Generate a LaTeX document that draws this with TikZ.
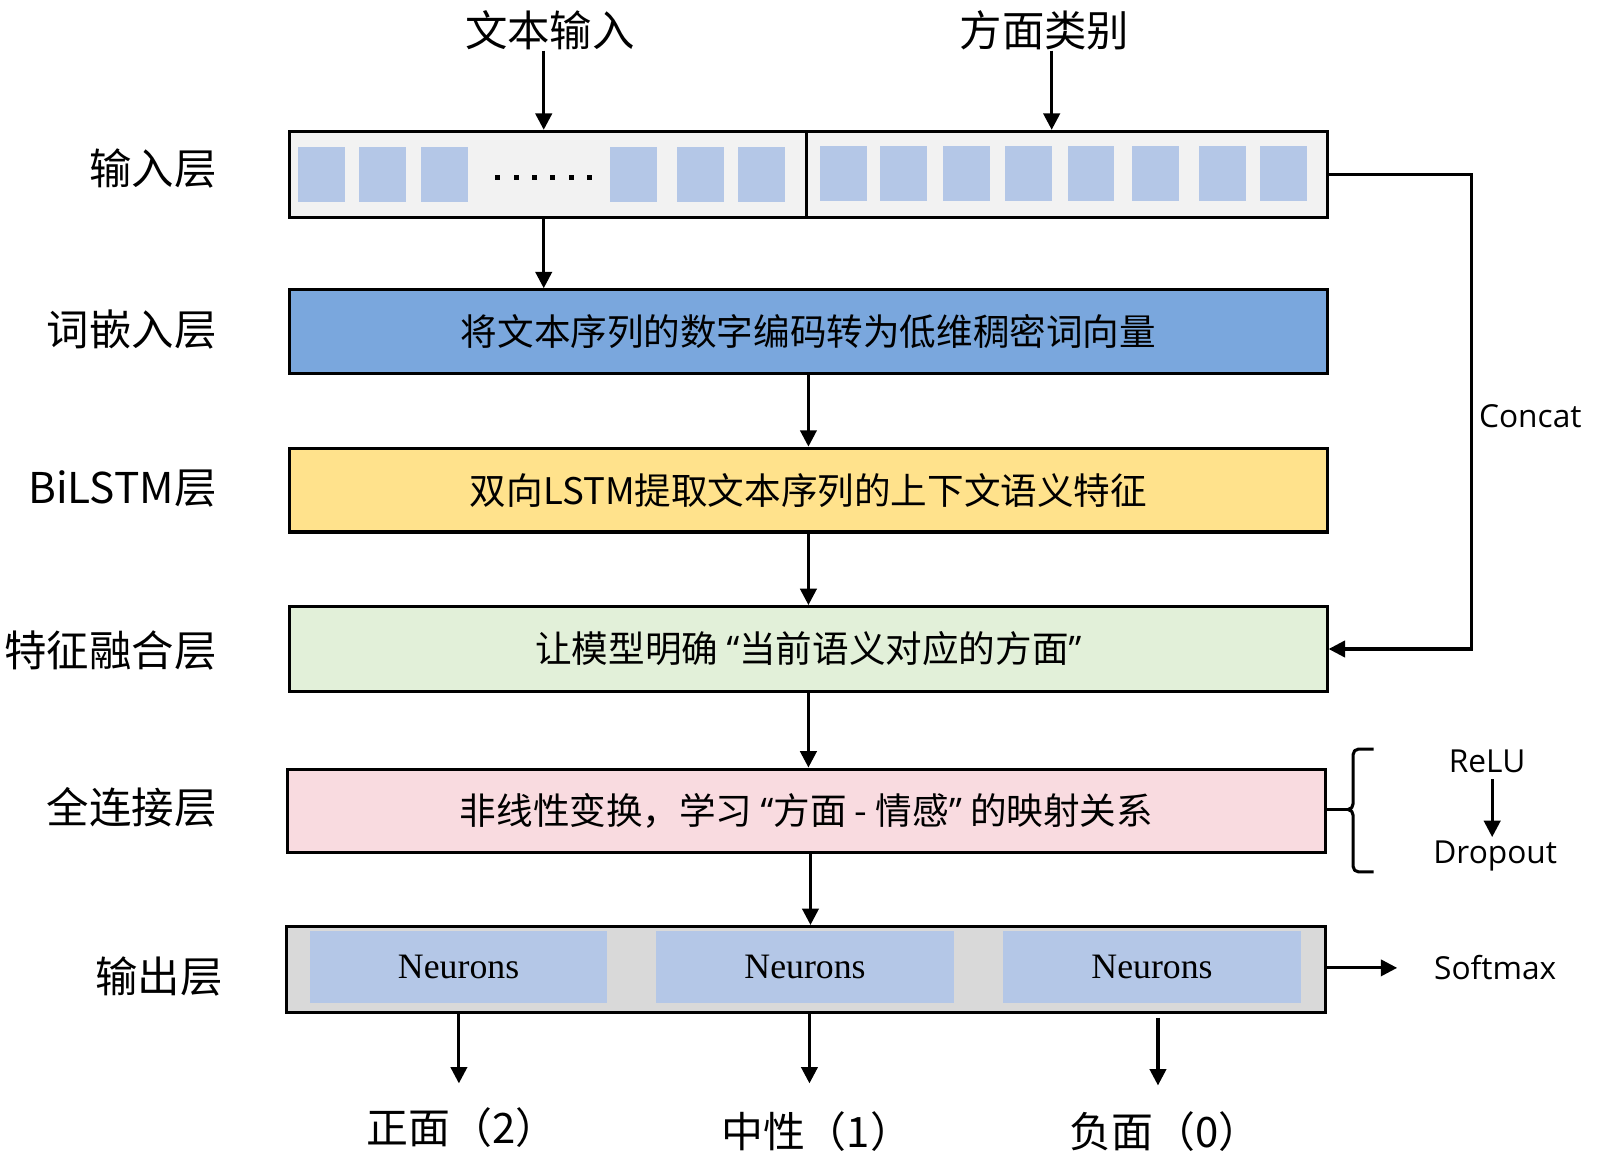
\documentclass[tikz,border=0pt]{standalone}
\usepackage{fontspec}
\setmainfont{Open Sans}
\newfontfamily\cjk{Noto Sans CJK SC}
\newfontfamily\latq{Open Sans}
\newfontfamily\serifneu{Liberation Serif}
\newcommand\oqm{{\latq “}}
\newcommand\cqm{{\latq ”}}
\usetikzlibrary{arrows.meta}
\definecolor{inbg}{HTML}{F2F2F2}
\definecolor{sqc}{HTML}{B4C7E7}
\definecolor{embc}{HTML}{7AA7DD}
\definecolor{lstmc}{HTML}{FFE28C}
\definecolor{fusc}{HTML}{E2F0D9}
\definecolor{fcc}{HTML}{F9DBE0}
\definecolor{outc}{HTML}{D9D9D9}
\begin{document}
\begin{tikzpicture}[x=1pt,y=-1pt,
  box/.style={draw, line width=3pt, anchor=north west, inner sep=0pt,
    minimum width=1015pt, minimum height=83pt,
    font=\cjk\fontsize{35.8}{40}\selectfont},
  arr/.style={line width=3pt, -{Triangle[length=16pt,width=16pt]}},
  plain/.style={line width=3pt},
  lbl/.style={font=\cjk\fontsize{41.5}{48}\selectfont, inner sep=0pt},
  side/.style={font=\fontsize{31}{36}\selectfont, inner sep=0pt},
  neur/.style={fill=sqc, inner sep=0pt, anchor=north west, minimum height=70pt,
    minimum width=291pt, font=\serifneu\fontsize{35}{40}\selectfont},
  res/.style={font=\cjk\fontsize{41}{48}\selectfont, inner sep=0pt}]
\useasboundingbox (0,0) rectangle (1565.5,1132);

% top labels
\node[lbl] (txtin) at (538,30) {文本输入};
\node[lbl] (aspin) at (1022,30) {方面类别};

% input layer
\node[box, fill=inbg, minimum width=506pt, minimum height=84pt] (inL) at (282,127) {};
\node[box, fill=inbg, minimum width=509pt, minimum height=84pt] (inR) at (788,127) {};
\foreach \a/\b in {291.5/337.5, 351/397, 412/458, 597/643, 662.5/708, 722/768}
  \fill[sqc] (\a,144) rectangle (\b,198);
\foreach \a/\b in {802/848.5, 861.5/907, 922.5/968.5, 983/1029, 1044.5/1090, 1108/1153.5, 1173/1219, 1233/1279}
  \fill[sqc] (\a,143) rectangle (\b,197);
\foreach \k in {0,...,5}
  \fill (484.5+18*\k,171.5) rectangle ++(5,5);

\coordinate (a1) at (532,0);
\coordinate (a2) at (1029,0);
\draw[arr] (txtin.south -| a1) -- (inL.north -| a1);
\draw[arr] (aspin.south -| a2) -- (inR.north -| a2);

% layers
\node[box, fill=embc, minimum height=82pt] (emb) at (282,282) {将文本序列的数字编码转为低维稠密词向量};
\node[box, fill=lstmc, minimum height=82pt] (lstm) at (282,437) {双向LSTM提取文本序列的上下文语义特征};
\node[box, fill=fusc] (fus) at (282,592) {让模型明确 \oqm 当前语义对应的方面\cqm};
\node[box, fill=fcc, minimum height=82pt] (fc) at (280,751) {非线性变换，学习 \oqm 方面 - 情感\cqm\ 的映射关系};
\node[box, fill=outc, minimum width=1016pt, minimum height=84pt] (out) at (279,905) {};
\node[neur] (n1) at (303,911) {Neurons};
\node[neur] (n2) at (642,911) {Neurons};
\node[neur] (n3) at (981.5,911) {Neurons};

\draw[arr] (inL.south -| a1) -- (emb.north -| a1);
\draw[arr] (emb.south) -- (emb.south |- lstm.north);
\draw[arr] (lstm.south) -- (lstm.south |- fus.north);
\draw[arr] (fus.south) -- (fus.south |- fc.north);
\coordinate (a3) at (793,0);
\draw[arr] (fc.south -| a3) -- (out.north -| a3);

% left labels
\node[lbl, anchor=east] (l1) at (212,165) {输入层};
\node[lbl, anchor=east] (l2) at (212,322) {词嵌入层};
\node[lbl, anchor=east] (l3) at (212,478) {BiLSTM层};
\node[lbl, anchor=east] (l4) at (212,636) {特征融合层};
\node[lbl, anchor=east] (l5) at (212,790) {全连接层};
\node[lbl, anchor=east] (l6) at (218,955) {输出层};

% concat
\coordinate (c1) at (1440,0);
\draw[arr] (inR.east) -- (inR.east -| c1) -- (fus.east -| c1) -- (fus.east);
\node[side, anchor=west] (concat) at (1447,407) {Concat};

% brace
\coordinate (cusp) at (1319,792);
\draw[plain] (fc.east |- cusp) -- (cusp);
\draw[plain, line join=round] (1344,733) -- (1329,733) to[out=180,in=90] (1324,738) -- (1324,786)
  to[out=-90,in=0] (cusp) to[out=0,in=90] (1324,798) -- (1324,848)
  to[out=-90,in=180] (1329,853) -- (1344,853);
\node[side] (relu) at (1455,745) {ReLU};
\node[side] (drop) at (1463,838) {Dropout};
\coordinate (r1) at (1460,0);
\draw[arr] ([yshift=-6pt]relu.south -| r1) -- ([yshift=4pt]drop.north -| r1);

% softmax
\coordinate (s1) at (1367,947);
\draw[arr] (out.east |- s1) -- (s1);
\node[side, anchor=west] (soft) at (1403,947) {Softmax};

% outputs
\coordinate (e1) at (449,1060);
\coordinate (e2) at (792,1060);
\coordinate (e3) at (1133,1062);
\draw[arr] (out.south -| e1) -- (e1);
\draw[arr] (out.south -| e2) -- (e2);
\draw[arr] ([yshift=-4pt]out.south -| e3) -- (e3);
\node[res] (o1) at (452,1103) {正面（2）};
\node[res] (o2) at (799,1107) {中性（1）};
\node[res] (o3) at (1140,1107) {负面（0）};
\end{tikzpicture}
\end{document}
